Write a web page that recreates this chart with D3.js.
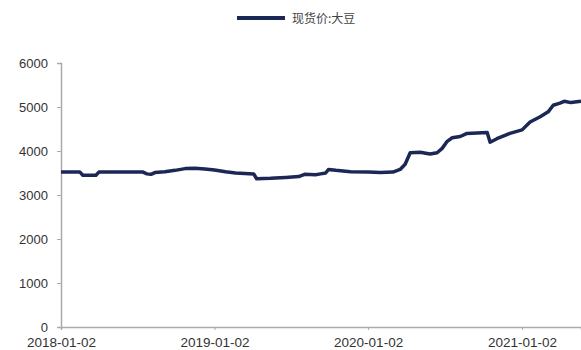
<!DOCTYPE html>
<html>
<head>
<meta charset="utf-8">
<script src="https://cdn.jsdelivr.net/npm/d3@7"></script>
<style>
  html, body { margin: 0; padding: 0; background: #fff; }
  svg { display: block; font-family: "Liberation Sans", Arial, sans-serif; }
</style>
</head>
<body>
<div id="chart"></div>
<script>
// Spot price series: soybean (CNY/ton)
const seriesName = "现货价:大豆";
const dates = [
  "2018-01-02","2018-02-16","2018-02-23","2018-03-26","2018-04-02","2018-07-16",
  "2018-07-25","2018-08-04","2018-08-13","2018-09-06","2018-09-30","2018-10-24",
  "2018-11-16","2018-12-10","2019-01-02","2019-01-28","2019-02-21","2019-04-05",
  "2019-04-12","2019-05-15","2019-06-20","2019-07-21","2019-08-04","2019-08-30",
  "2019-09-11","2019-09-23","2019-09-30","2019-10-17","2019-11-21","2020-01-02",
  "2020-01-31","2020-03-01","2020-03-18","2020-03-30","2020-04-11","2020-05-05",
  "2020-05-28","2020-06-14","2020-06-26","2020-07-08","2020-07-20","2020-08-08",
  "2020-08-24","2020-10-11","2020-10-18","2020-11-03","2020-12-04","2021-01-02",
  "2021-01-21","2021-02-14","2021-03-05","2021-03-17","2021-04-02","2021-04-12",
  "2021-04-28","2021-05-22"
];
const prices = [
  3520, 3520, 3450, 3450, 3520, 3520,
  3480, 3470, 3510, 3530, 3560, 3600,
  3610, 3590, 3570, 3530, 3500, 3480,
  3370, 3380, 3400, 3420, 3470, 3460,
  3480, 3500, 3580, 3560, 3530, 3520,
  3510, 3520, 3580, 3700, 3960, 3970,
  3930, 3960, 4060, 4220, 4300, 4330,
  4400, 4420, 4200, 4280, 4400, 4480,
  4660, 4780, 4890, 5040, 5090, 5130,
  5100, 5130
];
const yTicks = [0, 1000, 2000, 3000, 4000, 5000, 6000];
const xTickLabels = ["2018-01-02", "2019-01-02", "2020-01-02", "2021-01-02"];

const W = 581, H = 350;
const margin = { top: 63, right: 0, bottom: 23, left: 61 };
const parse = d3.timeParse("%Y-%m-%d");
const data = dates.map((d, i) => ({ date: parse(d), value: prices[i] }));

const svg = d3.select("#chart").append("svg")
  .attr("width", W).attr("height", H);

const x = d3.scaleTime()
  .domain([parse("2018-01-02"), parse("2021-05-22")])
  .range([margin.left, W - margin.right]);
const y = d3.scaleLinear()
  .domain([0, 6000])
  .range([H - margin.bottom, margin.top]);

// Legend
const legend = svg.append("g").attr("transform", "translate(237,18)");
legend.append("line")
  .attr("x1", 0).attr("x2", 48).attr("y1", 0).attr("y2", 0)
  .attr("stroke", "#1b2755").attr("stroke-width", 4);
legend.append("text")
  .attr("x", 55).attr("y", 4.5)
  .attr("font-size", 12)
  .attr("font-family", "'Noto Sans CJK SC', sans-serif")
  .attr("fill", "#444")
  .text(seriesName);

// Y axis
const yAxis = d3.axisLeft(y).tickValues(yTicks).tickSize(4).tickPadding(9)
  .tickFormat(d3.format("d"));
const gy = svg.append("g")
  .attr("transform", `translate(${margin.left},0)`)
  .call(yAxis);
gy.select(".domain").attr("stroke", "#aaa").attr("stroke-width", 1.5);
gy.selectAll(".tick line").attr("stroke", "#aaa");
gy.selectAll(".tick text").attr("font-size", 13).attr("fill", "#333");

// X axis
const xAxis = d3.axisBottom(x)
  .tickValues(xTickLabels.map(parse))
  .tickSize(3).tickPadding(7)
  .tickFormat(d3.timeFormat("%Y-%m-%d"));
const gx = svg.append("g")
  .attr("transform", `translate(0,${H - margin.bottom})`)
  .call(xAxis);
gx.select(".domain").attr("stroke", "#aaa").attr("stroke-width", 1.5);
gx.selectAll(".tick line").attr("stroke", "#aaa");
gx.selectAll(".tick text").attr("font-size", 13.5).attr("fill", "#333");

// Price line
const line = d3.line()
  .x(d => x(d.date))
  .y(d => y(d.value));
svg.append("path")
  .datum(data)
  .attr("fill", "none")
  .attr("stroke", "#1b2755")
  .attr("stroke-width", 3.5)
  .attr("stroke-linejoin", "round")
  .attr("d", line);
</script>
</body>
</html>
